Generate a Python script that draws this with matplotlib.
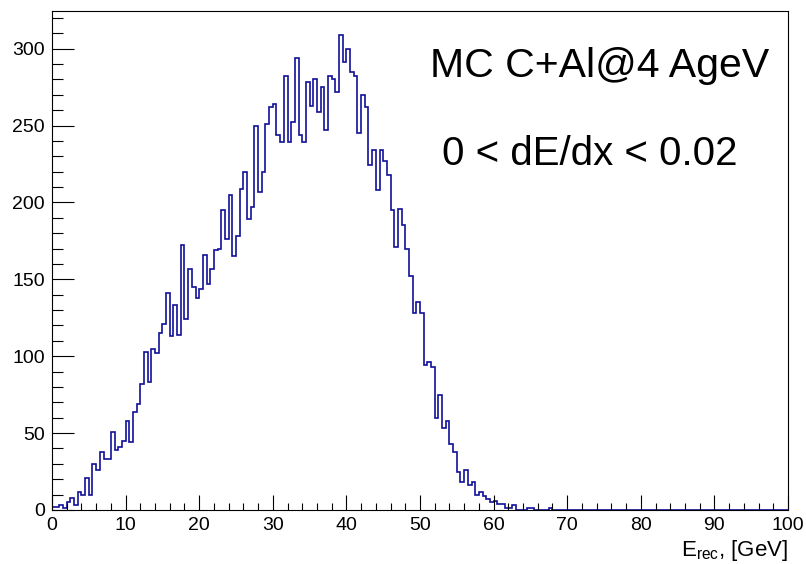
import numpy as np
import matplotlib
matplotlib.use("Agg")
import matplotlib.pyplot as plt
from matplotlib.ticker import MultipleLocator

plt.rcParams['font.family'] = ['Liberation Sans', 'DejaVu Sans']
plt.rcParams['mathtext.default'] = 'regular'

# reconstructed energy histogram, 200 bins of 0.5 GeV from 0 to 100
E_MIN, E_MAX, N_BINS = 0.0, 100.0, 200
counts_head = [
    2, 2, 3, 1, 5, 8, 3, 12, 10, 21,
    10, 30, 26, 38, 33, 33, 51, 39, 41, 45,
    58, 44, 64, 69, 82, 103, 83, 105, 102, 115,
    121, 141, 113, 133, 114, 172, 124, 157, 145, 138,
    144, 166, 147, 157, 169, 170, 195, 176, 205, 165,
    178, 209, 220, 189, 197, 250, 207, 220, 251, 262,
    264, 244, 239, 282, 239, 252, 294, 244, 239, 278,
    263, 280, 259, 275, 247, 282, 280, 272, 309, 291,
    300, 285, 282, 245, 270, 262, 224, 234, 208, 234,
    227, 218, 195, 171, 196, 185, 170, 152, 128, 135,
    128, 94, 96, 93, 60, 75, 53, 58, 43, 38,
    25, 18, 26, 16, 18, 10, 12, 9, 7, 5,
    6, 4, 4, 1, 1, 3, 0, 0, 0, 1,
    1, 0, 0, 0, 0, 1,
]
counts = np.zeros(N_BINS)
counts[:len(counts_head)] = counts_head
edges = np.linspace(E_MIN, E_MAX, N_BINS + 1)

fig = plt.figure(figsize=(8.06, 5.64), dpi=100)
ax = fig.add_axes([52 / 806, 54 / 564, 736 / 806, 499 / 564])

ax.stairs(counts, edges, color='#10109a', linewidth=1.2, baseline=0)

ax.set_xlim(E_MIN, E_MAX)
ax.set_ylim(0, counts.max() * 1.05)

ax.xaxis.set_major_locator(MultipleLocator(10))
ax.xaxis.set_minor_locator(MultipleLocator(2))
ax.yaxis.set_major_locator(MultipleLocator(50))
ax.yaxis.set_minor_locator(MultipleLocator(10))

ax.tick_params(axis='both', which='both', direction='in', width=0.8,
               labelsize=14, top=False, right=False, pad=5)
ax.tick_params(axis='x', which='major', length=10.8)
ax.tick_params(axis='x', which='minor', length=5.4)
ax.tick_params(axis='y', which='major', length=15.8)
ax.tick_params(axis='y', which='minor', length=7.9)

for s in ax.spines.values():
    s.set_linewidth(0.8)

ax.set_xlabel(r'E$_{rec}$, [GeV]', fontsize=16, loc='right', labelpad=3)

ax.text(430 / 806, 1 - 77 / 564, 'MC C+Al@4 AgeV', transform=fig.transFigure,
        fontsize=29.5, ha='left', va='baseline')
ax.text(442 / 806, 1 - 165 / 564, '0 < dE/dx < 0.02', transform=fig.transFigure,
        fontsize=29, ha='left', va='baseline')

fig.savefig('out.png', dpi=100)
